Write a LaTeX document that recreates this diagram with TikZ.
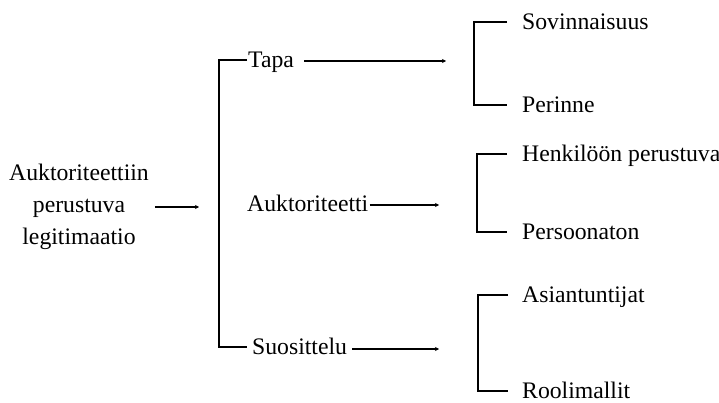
\documentclass[tikz,border=0pt]{standalone}
\usepackage{fontspec}
\setmainfont{Liberation Serif}
\usetikzlibrary{arrows.meta}
\begin{document}
\begin{tikzpicture}[x=1pt,y=-1pt,
  lbl/.style={font=\fontsize{23.7}{32}\selectfont, inner sep=1pt, text height=15.5pt, text depth=0pt, anchor=west},
  ln/.style={line width=1.1pt},
  arr/.style={line width=1.1pt, -{Stealth[length=4pt,width=4pt]}}]
\useasboundingbox (0,0) rectangle (719,403);
% left
\node[font=\fontsize{23.7}{32}\selectfont, align=center, inner sep=1pt] (root) at (79,207) {Auktoriteettiin\\perustuva\\legitimaatio};
\coordinate (rootend) at (199,207);
\draw[arr] ([xshift=5pt]root.east |- rootend) -- (rootend);
% middle
\node[lbl] (tapa) at (247,60) {Tapa};
\node[lbl] (auk) at (246,204) {Auktoriteetti};
\node[lbl] (suo) at (251,347) {Suosittelu};
\draw[ln] (tapa.west) -- ++(-28,0) |- ([xshift=-4pt]suo.west);
\coordinate (tapaend) at (446,61);
\coordinate (aukend) at (439,205);
\coordinate (suoend) at (439,349);
\draw[arr] ([xshift=9pt]tapa.east |- tapaend) -- (tapaend);
\draw[arr] (auk.east |- aukend) -- (aukend);
\draw[arr] ([xshift=4pt]suo.east |- suoend) -- (suoend);
% right
\node[lbl] (sov) at (521,22) {Sovinnaisuus};
\node[lbl] (per) at (521,105) {Perinne};
\node[lbl] (hen) at (521,154) {Henkilöön perustuva};
\node[lbl] (pers) at (521,232) {Persoonaton};
\node[lbl] (asi) at (521,295) {Asiantuntijat};
\node[lbl] (roo) at (521,391) {Roolimallit};
\draw[ln] ([xshift=-14pt]sov.west) -- ++(-33,0) |- ([xshift=-14pt]per.west);
\draw[ln] ([xshift=-14pt]hen.west) -- ++(-30,0) |- ([xshift=-14pt]pers.west);
\draw[ln] ([xshift=-13pt]asi.west) -- ++(-30,0) |- ([xshift=-13pt]roo.west);
\end{tikzpicture}
\end{document}
